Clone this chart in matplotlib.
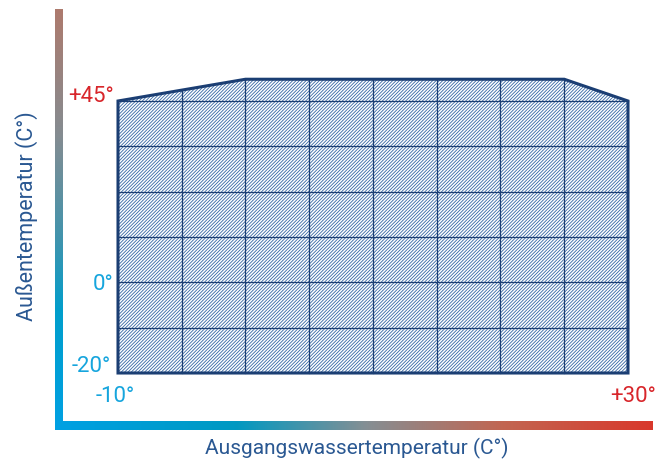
import matplotlib.pyplot as plt
import numpy as np
from matplotlib.patches import Polygon
from matplotlib.colors import LinearSegmentedColormap

# Einsatzgrenzen (x: Ausgangswasser °C, y: Zeilen des Rasters)
grid_x = [-10, -5, 0, 5, 10, 15, 20, 25, 30]
grid_rows = [0, 1, 2, 3, 4, 5, 6]
envelope_x = [-10, -10, 0, 25, 30, 30]
envelope_y = [0, 6, 6.48, 6.48, 6, 0]

# Beschriftungen: (Text, Farbe, x px, y px, Ausrichtung)
labels = [('+45°', 'red', 114, 96, 'right'),
          ('0°', 'cyan', 114, 284, 'right'),
          ('-20°', 'cyan', 111, 367, 'right'),
          ('-10°', 'cyan', 96, 396, 'left'),
          ('+30°', 'red', 656, 396, 'right')]

W, H = 655, 466
red = '#d8262b'
cyan = '#16a5dd'
navy = '#1b3e73'
title_blue = '#2a5892'

plt.rcParams['font.family'] = ['Roboto', 'DejaVu Sans']
plt.rcParams['hatch.linewidth'] = 0.6

fig = plt.figure(figsize=(W / 100, H / 100), dpi=100)

# Hauptachse: Rechteck 118..628 px, 101..373 px
ax = fig.add_axes([118 / W, (H - 373) / H, 510 / W, 272 / H])
ax.set_xlim(-10, 30)
ax.set_ylim(0, 6)
ax.axis('off')

pts = np.column_stack([envelope_x, envelope_y])
ax.add_patch(Polygon(pts, closed=True, facecolor='white', edgecolor='#3566a3',
                     hatch='//////////', linewidth=0, clip_on=False))

# Raster innerhalb der Hüllkurve
for gx in grid_x[1:-1]:
    top = np.interp(gx, envelope_x[1:5], envelope_y[1:5])
    ax.plot([gx, gx], [0, top], color=navy, lw=0.9, clip_on=False)
for gy in grid_rows[1:]:
    ax.plot([grid_x[0], grid_x[-1]], [gy, gy], color=navy, lw=0.9, clip_on=False)

ax.add_patch(Polygon(pts, closed=True, fill=False, edgecolor=navy,
                     linewidth=2.2, joinstyle='miter', clip_on=False))

# Farbverlauf-Achsen
vcmap = LinearSegmentedColormap.from_list('v', [
    (0.0, (0.68, 0.48, 0.43)), (0.3, (0.52, 0.55, 0.57)),
    (0.55, (0.25, 0.58, 0.68)), (0.72, (0.0, 0.62, 0.80)),
    (1.0, (0.0, 0.63, 0.89))])
hcmap = LinearSegmentedColormap.from_list('h', [
    (0.0, (0.0, 0.63, 0.89)), (0.3, (0.0, 0.60, 0.76)),
    (0.52, (0.52, 0.56, 0.58)), (0.75, (0.76, 0.40, 0.32)),
    (1.0, (0.85, 0.22, 0.17))])

grad = np.linspace(0, 1, 256)
axv = fig.add_axes([55 / W, (H - 430) / H, 8 / W, 421 / H])
axv.imshow(grad[:, None], aspect='auto', cmap=vcmap)
axv.axis('off')
axh = fig.add_axes([55 / W, (H - 430) / H, 598 / W, 9 / H])
axh.imshow(grad[None, :], aspect='auto', cmap=hcmap)
axh.axis('off')

for txt, col, px, py, ha in labels:
    fig.text(px / W, 1 - py / H, txt, color=red if col == 'red' else cyan,
             fontsize=16, ha=ha, va='center')

fig.text(27 / W, 1 - 216 / H, 'Außentemperatur (C°)', rotation=90,
         color=title_blue, fontsize=15.5, ha='center', va='center')
fig.text(357 / W, 1 - 448 / H, 'Ausgangswassertemperatur (C°)',
         color=title_blue, fontsize=15, ha='center', va='center')

plt.savefig('out.png', dpi=100)
